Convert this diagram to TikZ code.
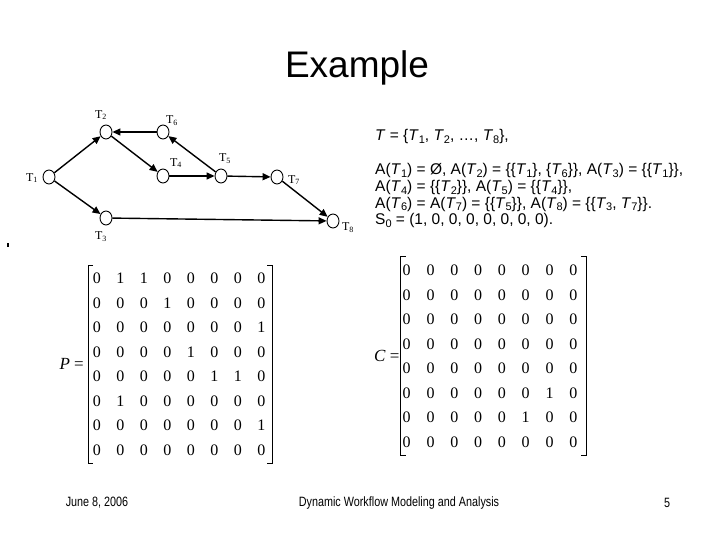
\documentclass[tikz,border=0pt]{standalone}
\usepackage{fontspec}
\setmainfont{Liberation Sans}
\newfontfamily\tms{Liberation Serif}
\usetikzlibrary{shapes.geometric,arrows.meta,matrix}
\newcommand{\sbx}[1]{\raisebox{-2.8pt}{\fontsize{11}{11}\selectfont #1}}
\newcommand{\Ti}[1]{\textit{T}\sbx{#1}}
\tikzset{
  task/.style={ellipse,draw=black,line width=0.9pt,minimum width=12pt,minimum height=14pt,inner sep=0pt},
  tlabel/.style={font=\tms\fontsize{12}{12}\selectfont,inner sep=0pt},
  edge/.style={line width=1.4pt,-{Triangle[length=8pt,width=7pt]}},
  txt/.style={anchor=base west,inner sep=0pt,font=\fontsize{15.5}{15.5}\selectfont},
  mat/.style={matrix of nodes,nodes={minimum width=#1,minimum height=24.5pt,text height=11pt,text depth=0pt,inner sep=0pt,anchor=center,font=\tms\fontsize{16}{16}\selectfont},column sep=0pt,row sep=0pt,inner sep=0pt},
  brk/.style={line width=0.7pt},
  foot/.style={inner sep=0pt,font=\fontsize{13.5}{13.5}\selectfont}
}
\begin{document}
\begin{tikzpicture}[x=1pt,y=-1pt]
\useasboundingbox[fill=white] (0,0) rectangle (720,540);
% title
\node[inner sep=0pt,font=\fontsize{37}{37}\selectfont] (title) at (357,68) {Example};
% graph
\node[task] (t1) at (49,177) {};
\node[task] (t2) at (106,132) {};
\node[task] (t6) at (163,132) {};
\node[task] (t4) at (163,176) {};
\node[task] (t5) at (221,176) {};
\node[task] (t7) at (277,177) {};
\node[task] (t3) at (106,218) {};
\node[task] (t8) at (333,221) {};
\node[tlabel] (l1) at (32,178) {T\textsubscript{1}};
\node[tlabel] (l2) at (101,115) {T\textsubscript{2}};
\node[tlabel] (l6) at (172,121) {T\textsubscript{6}};
\node[tlabel] (l4) at (176,163) {T\textsubscript{4}};
\node[tlabel] (l5) at (225,159) {T\textsubscript{5}};
\node[tlabel] (l7) at (294,180) {T\textsubscript{7}};
\node[tlabel] (l8) at (348,228) {T\textsubscript{8}};
\node[tlabel] (l3) at (101,237) {T\textsubscript{3}};
\draw[edge] (t1) -- (t2);
\draw[edge] (t1) -- (t3);
\draw[edge] (t2) -- (t4);
\draw[edge] (t6) -- (t2);
\draw[edge] (t5) -- (t6);
\draw[edge] (t4) -- (t5);
\draw[edge] (t5) -- (t7);
\draw[edge] (t7) -- (t8);
\draw[edge] (t3) -- (t8);
\fill (7,243) rectangle (9,247);
% text block
\node[txt] (s0) at (375,141) {\textit{T} = \{\Ti{1}, \Ti{2}, \ldots, \Ti{8}\},};
\node[txt] (s1) at (375,175) {A(\Ti{1}) = Ø, A(\Ti{2}) = \{\{\Ti{1}\}, \{\Ti{6}\}\}, A(\Ti{3}) = \{\{\Ti{1}\}\},};
\node[txt] (s2) at (375,191.5) {A(\Ti{4}) = \{\{\Ti{2}\}\}, A(\Ti{5}) = \{\{\Ti{4}\}\},};
\node[txt] (s3) at (375,208) {A(\Ti{6}) = A(\Ti{7}) = \{\{\Ti{5}\}\}, A(\Ti{8}) = \{\{\Ti{3}, \Ti{7}\}\}.};
\node[txt] (s4) at (375,224.5) {S\sbx{0} = (1, 0, 0, 0, 0, 0, 0, 0).};
% P matrix
\matrix[mat=23.5pt] (P) at (179.2,364.2) {
0 & 1 & 1 & 0 & 0 & 0 & 0 & 0 \\
0 & 0 & 0 & 1 & 0 & 0 & 0 & 0 \\
0 & 0 & 0 & 0 & 0 & 0 & 0 & 1 \\
0 & 0 & 0 & 0 & 1 & 0 & 0 & 0 \\
0 & 0 & 0 & 0 & 0 & 1 & 1 & 0 \\
0 & 1 & 0 & 0 & 0 & 0 & 0 & 0 \\
0 & 0 & 0 & 0 & 0 & 0 & 0 & 1 \\
0 & 0 & 0 & 0 & 0 & 0 & 0 & 0 \\
};
\draw[brk] ([xshift=8pt,yshift=1pt]P.north west) -- ([xshift=3pt,yshift=1pt]P.north west) -- ([xshift=3pt,yshift=-1pt]P.south west) -- ([xshift=8pt,yshift=-1pt]P.south west);
\draw[brk] ([xshift=-6pt,yshift=1pt]P.north east) -- ([xshift=-1pt,yshift=1pt]P.north east) -- ([xshift=-1pt,yshift=-1pt]P.south east) -- ([xshift=-6pt,yshift=-1pt]P.south east);
\node[inner sep=0pt,anchor=east,font=\tms\fontsize{17}{17}\selectfont] (Pl) at ([xshift=-1pt]P.west) {\textit{P} =};
% C matrix
\matrix[mat=23.8pt] (C) at (490,356) {
0 & 0 & 0 & 0 & 0 & 0 & 0 & 0 \\
0 & 0 & 0 & 0 & 0 & 0 & 0 & 0 \\
0 & 0 & 0 & 0 & 0 & 0 & 0 & 0 \\
0 & 0 & 0 & 0 & 0 & 0 & 0 & 0 \\
0 & 0 & 0 & 0 & 0 & 0 & 0 & 0 \\
0 & 0 & 0 & 0 & 0 & 0 & 1 & 0 \\
0 & 0 & 0 & 0 & 0 & 1 & 0 & 0 \\
0 & 0 & 0 & 0 & 0 & 0 & 0 & 0 \\
};
\draw[brk] ([xshift=11pt,yshift=1pt]C.north west) -- ([xshift=6pt,yshift=1pt]C.north west) -- ([xshift=6pt,yshift=-1pt]C.south west) -- ([xshift=11pt,yshift=-1pt]C.south west);
\draw[brk] ([xshift=-4pt,yshift=1pt]C.north east) -- ([xshift=1pt,yshift=1pt]C.north east) -- ([xshift=1pt,yshift=-1pt]C.south east) -- ([xshift=-4pt,yshift=-1pt]C.south east);
\node[inner sep=0pt,anchor=east,font=\tms\fontsize{17}{17}\selectfont] (Cl) at ([xshift=5pt]C.west) {\textit{C} =};
% footer
\node[foot] (date) at (97,503) {\scalebox{0.8}[1]{June 8, 2006}};
\node[foot] (ttl) at (399,503) {\scalebox{0.8}[1]{Dynamic Workflow Modeling and Analysis}};
\node[foot] (pg) at (667,503) {\scalebox{0.8}[1]{5}};
\end{tikzpicture}
\end{document}
